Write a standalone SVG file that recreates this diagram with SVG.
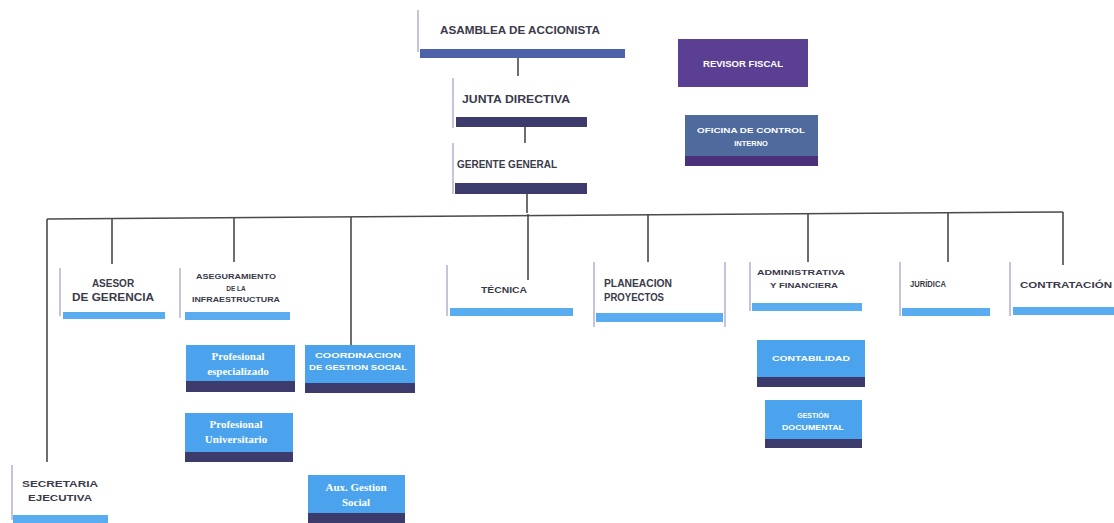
<svg xmlns="http://www.w3.org/2000/svg" width="1114" height="523" viewBox="0 0 1114 523">
<style>
.t{font-family:"Liberation Sans",Arial,sans-serif;font-weight:bold;fill:#3a3a4a;text-anchor:middle}
.w{font-family:"Liberation Sans",Arial,sans-serif;font-weight:bold;fill:#ffffff;text-anchor:middle}
.s{font-family:"Liberation Serif","Times New Roman",serif;font-weight:bold;fill:#ffffff;text-anchor:middle}
.edge{stroke:#4a4a4a;stroke-width:1.6;fill:none}
.side{stroke:#c4c4dc;stroke-width:2;fill:none}
.lb{fill:#5aacf0}
.db{fill:#3c3b6b}
.blue{fill:#4aa3ec}
</style>
<rect width="1114" height="523" fill="#ffffff"/>
<g id="connectors">
<line class="edge" x1="518" y1="58" x2="518" y2="76"/>
<line class="edge" x1="525" y1="127" x2="525" y2="143"/>
<line class="edge" x1="527" y1="194" x2="527" y2="213"/>
<line class="edge" x1="47" y1="219" x2="1063" y2="212"/>
<line class="edge" x1="47" y1="219" x2="47" y2="462"/>
<line class="edge" x1="112" y1="218" x2="112" y2="264"/>
<line class="edge" x1="234" y1="218" x2="234" y2="262"/>
<line class="edge" x1="351" y1="217" x2="351" y2="345"/>
<line class="edge" x1="528" y1="214" x2="528" y2="280"/>
<line class="edge" x1="648" y1="214" x2="648" y2="262"/>
<line class="edge" x1="808" y1="213" x2="808" y2="262"/>
<line class="edge" x1="948" y1="212" x2="948" y2="262"/>
<line class="edge" x1="1063" y1="212" x2="1063" y2="265"/>
</g>
<g id="asamblea">
<line class="side" x1="418" y1="10" x2="418" y2="52"/>
<text class="t" x="520" y="34" font-size="10.5" textLength="160" lengthAdjust="spacingAndGlyphs">ASAMBLEA DE ACCIONISTA</text>
<rect x="420" y="49" width="205" height="9" fill="#4d62a8"/>
</g>
<g id="junta">
<line class="side" x1="453" y1="78" x2="453" y2="128"/>
<text class="t" x="516" y="103" font-size="10" textLength="108" lengthAdjust="spacingAndGlyphs">JUNTA DIRECTIVA</text>
<rect x="456" y="117" width="131" height="10" class="db"/>
</g>
<g id="gerente">
<line class="side" x1="453" y1="143" x2="453" y2="194"/>
<text class="t" x="507" y="168" font-size="10" textLength="100" lengthAdjust="spacingAndGlyphs">GERENTE GENERAL</text>
<rect x="455" y="183" width="132" height="11" class="db"/>
</g>
<g id="revisor">
<rect x="678" y="39" width="130" height="48" fill="#5b3f92"/>
<text class="w" x="743" y="67" font-size="8.5" textLength="80" lengthAdjust="spacingAndGlyphs">REVISOR FISCAL</text>
</g>
<g id="control">
<rect x="685" y="115" width="133" height="51" fill="#4f6a9c"/>
<rect x="685" y="156" width="133" height="10" fill="#4a2f7a"/>
<text class="w" x="751" y="133" font-size="7.5" textLength="108" lengthAdjust="spacingAndGlyphs">OFICINA DE CONTROL</text>
<text class="w" x="751" y="146" font-size="7.5">INTERNO</text>
</g>
<g id="asesor">
<line class="side" x1="60" y1="268" x2="60" y2="316"/>
<text class="t" x="113" y="287" font-size="10">ASESOR</text>
<text class="t" x="113" y="301" font-size="10" textLength="82" lengthAdjust="spacingAndGlyphs">DE GERENCIA</text>
<rect x="63" y="312" width="102" height="7" class="lb"/>
</g>
<g id="aseguramiento">
<line class="side" x1="180" y1="268" x2="180" y2="318"/>
<text class="t" x="236" y="279" font-size="6.5" textLength="80" lengthAdjust="spacingAndGlyphs">ASEGURAMIENTO</text>
<text class="t" x="236" y="291" font-size="6.5">DE LA</text>
<text class="t" x="236" y="302" font-size="6.5" textLength="88" lengthAdjust="spacingAndGlyphs">INFRAESTRUCTURA</text>
<rect x="185" y="312" width="105" height="8" class="lb"/>
</g>
<g id="prof-especializado">
<rect x="186" y="345" width="109" height="47" class="blue"/>
<rect x="186" y="381" width="109" height="11" class="db"/>
<text class="s" x="238" y="360" font-size="11">Profesional</text>
<text class="s" x="238" y="375" font-size="11">especializado</text>
</g>
<g id="prof-universitario">
<rect x="185" y="413" width="108" height="49" class="blue"/>
<rect x="185" y="452" width="108" height="10" class="db"/>
<text class="s" x="236" y="428" font-size="11">Profesional</text>
<text class="s" x="236" y="443" font-size="11">Universitario</text>
</g>
<g id="coordinacion">
<rect x="305" y="345" width="110" height="48" class="blue"/>
<rect x="305" y="383" width="110" height="10" class="db"/>
<text class="w" x="358" y="358" font-size="7" textLength="86" lengthAdjust="spacingAndGlyphs">COORDINACION</text>
<text class="w" x="358" y="370" font-size="7" textLength="98" lengthAdjust="spacingAndGlyphs">DE GESTION SOCIAL</text>
</g>
<g id="aux-gestion">
<rect x="308" y="475" width="97" height="48" class="blue"/>
<rect x="308" y="513" width="97" height="10" class="db"/>
<text class="s" x="356" y="491" font-size="11">Aux. Gestion</text>
<text class="s" x="356" y="506" font-size="11">Social</text>
</g>
<g id="secretaria">
<line class="side" x1="12" y1="465" x2="12" y2="520"/>
<text class="t" x="60" y="487" font-size="9" textLength="76" lengthAdjust="spacingAndGlyphs">SECRETARIA</text>
<text class="t" x="60" y="501" font-size="9" textLength="64" lengthAdjust="spacingAndGlyphs">EJECUTIVA</text>
<rect x="13" y="515" width="95" height="8" class="lb"/>
</g>
<g id="tecnica">
<line class="side" x1="447" y1="265" x2="447" y2="316"/>
<text class="t" x="504" y="293" font-size="9" textLength="46" lengthAdjust="spacingAndGlyphs">TÉCNICA</text>
<rect x="450" y="308" width="123" height="8" class="lb"/>
</g>
<g id="planeacion">
<line class="side" x1="594" y1="262" x2="594" y2="327"/>
<line class="side" x1="725" y1="262" x2="725" y2="327"/>
<text class="t" x="638" y="287" font-size="10" textLength="68" lengthAdjust="spacingAndGlyphs">PLANEACION</text>
<text class="t" x="634" y="301" font-size="10" textLength="60" lengthAdjust="spacingAndGlyphs">PROYECTOS</text>
<rect x="596" y="313" width="127" height="9" class="lb"/>
</g>
<g id="administrativa">
<line class="side" x1="750" y1="262" x2="750" y2="311"/>
<text class="t" x="801" y="275" font-size="8" textLength="88" lengthAdjust="spacingAndGlyphs">ADMINISTRATIVA</text>
<text class="t" x="804" y="288" font-size="8" textLength="68" lengthAdjust="spacingAndGlyphs">Y FINANCIERA</text>
<rect x="752" y="303" width="110" height="8" class="lb"/>
</g>
<g id="contabilidad">
<rect x="757" y="340" width="108" height="47" class="blue"/>
<rect x="757" y="377" width="108" height="10" class="db"/>
<text class="w" x="811" y="361" font-size="7.5" textLength="78" lengthAdjust="spacingAndGlyphs">CONTABILIDAD</text>
</g>
<g id="gestion-documental">
<rect x="765" y="400" width="97" height="48" class="blue"/>
<rect x="765" y="439" width="97" height="9" class="db"/>
<text class="w" x="813" y="418" font-size="7">GESTIÓN</text>
<text class="w" x="813" y="430" font-size="7" textLength="62" lengthAdjust="spacingAndGlyphs">DOCUMENTAL</text>
</g>
<g id="juridica">
<line class="side" x1="900" y1="262" x2="900" y2="316"/>
<text class="t" x="928" y="287" font-size="8.5" textLength="36" lengthAdjust="spacingAndGlyphs">JURÍDICA</text>
<rect x="902" y="308" width="88" height="8" class="lb"/>
</g>
<g id="contratacion">
<line class="side" x1="1010" y1="262" x2="1010" y2="316"/>
<text class="t" x="1066" y="288" font-size="8.5" textLength="92" lengthAdjust="spacingAndGlyphs">CONTRATACIÓN</text>
<rect x="1013" y="307" width="101" height="8" class="lb"/>
</g>
</svg>
